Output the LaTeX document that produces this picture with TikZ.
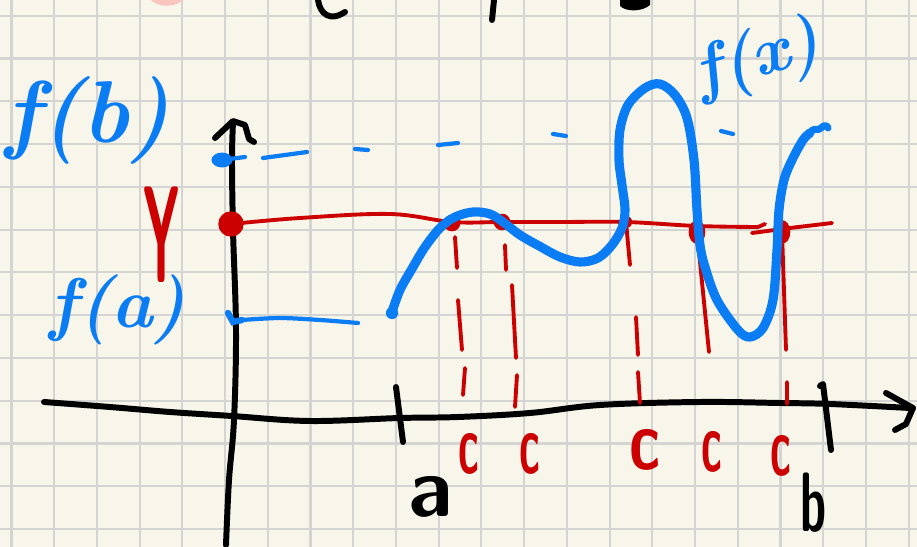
\documentclass[tikz,border=0pt]{standalone}
\usepackage{fontspec}
\usetikzlibrary{shapes.geometric}

\definecolor{paper}{HTML}{F8F6EA}
\definecolor{gridgray}{HTML}{D4D4D2}
\definecolor{penblue}{HTML}{0A7CF4}
\definecolor{penred}{HTML}{CC0000}
\definecolor{blush}{HTML}{F8C6BF}

\tikzset{
  gridline/.style={draw=gridgray, line width=1.2pt},
  axis/.style={line width=3.4pt, line cap=round, line join=round},
  fcurve/.style={draw=penblue, line width=5.2pt, line cap=round, line join=round},
  bluepen/.style={draw=penblue, line width=2.4pt, line cap=round},
  redpen/.style={draw=penred, line width=2.2pt, line cap=round},
  reddot/.style={circle, fill=penred, inner sep=0pt, minimum size=9.5pt},
  hand/.style={inner sep=0pt, font=\fontsize{48}{48}\selectfont\sffamily\bfseries},
  fhand/.style={inner sep=0pt, text=penblue}
}

\begin{document}
\begin{tikzpicture}[x=0.02cm, y=-0.02cm]
\useasboundingbox (0,0) rectangle (917,547);
\clip (0,0) rectangle (917,547);
\fill[paper] (0,0) rectangle (917,547);

% squared paper
\foreach \i in {0,...,21}
  \draw[gridline] ({11.5+42.72*\i},0) -- ++(0,547);
\foreach \j in {0,...,12}
  \draw[gridline] (0,{15.7+42.78*\j}) -- ++(917,0);

% bits cut off at the top edge
\fill[blush] (167,-20) circle (14.7pt);
\draw[axis] (318,0) .. controls (320,14) and (330,22) .. (345,12);
\draw[axis] (494,0) -- (492,20);
\fill (620,0) -- (650,0) -- (650,5) .. controls (642,12) and (626,12) .. (620,6) -- cycle;

% axes
\draw[axis] plot[smooth, tension=0.6] coordinates {(44,402) (110,407) (170,412) (232,416) (310,421) (400,418) (458,417) (530,413) (600,405) (700,402) (780,403) (830,404) (910,408)};
\draw[axis] (886,393) -- (913,408) -- (906,424) -- (895,430);
\draw[axis] plot[smooth, tension=0.6] coordinates {(226,545) (229,480) (234,420) (236,330) (233,230) (232,160) (233,122)};
\draw[axis] (215,138) -- (233,121) -- (245,125) -- (249,139) -- (254,142);
\draw[axis] (396,387) -- (403,442);
\draw[axis] (820,386) -- (823,384) -- (831,450);

\node[hand] (a) at (431,497) {a};
\node[hand] (b) at (814,503) {\scalebox{0.55}[1]{b}};

% value y and the points c
\draw[redpen] plot[smooth, tension=0.6] coordinates {(231,224) (300,218) (390,214) (452,222) (502,222) (560,222) (626,222) (697,226) (758,227)} -- (765,224);
\draw[redpen] (752,233) -- (790,228) -- (832,223);

\node[reddot, minimum size=14.5pt] (y0) at (231,224) {};
\node[reddot] (d1) at (452,223) {};
\node[reddot] (d2) at (502,222) {};
\node[reddot, minimum size=7pt] (d3) at (626,222) {};
\node[reddot, ellipse, minimum width=9.5pt, minimum height=13.5pt] (d4) at (697,232) {};
\node[reddot, ellipse, minimum width=9.5pt, minimum height=13.5pt] (d5) at (782,232) {};

\draw[redpen] (455,237) -- (457,268) (458,300) -- (462,350) (465,368) -- (463,395);
\draw[redpen] (505,245) -- (506,270) (512,285) -- (516,358) (517,375) -- (515,407);
\draw[redpen] (d3) -- (630,265) (636,317) -- (638,355) (638,372) -- (640,403);
\draw[redpen] (d4) -- (709,352);
\draw[redpen] (d5) -- (786,350) (787,382) -- (787,404);

\node[hand, text=penred, font=\fontsize{56}{56}\selectfont\sffamily\bfseries] (Y) at (162,235) {\scalebox{0.5}[1.4]{Y}};
\node[hand, text=penred] (c1) at (469,454) {\scalebox{0.5}[1]{c}};
\node[hand, text=penred] (c2) at (530,454) {\scalebox{0.5}[1]{c}};
\node[hand, text=penred] (c3) at (645,450) {\scalebox{0.75}[1]{c}};
\node[hand, text=penred] (c4) at (712,452) {\scalebox{0.5}[1]{c}};
\node[hand, text=penred] (c5) at (781,456) {\scalebox{0.5}[1]{c}};

% the function
\node[ellipse, fill=penblue, inner sep=0pt, minimum width=12pt, minimum height=8.5pt] (fb) at (222,160) {};
\draw[bluepen] (fb) -- (245,157);
\draw[bluepen] (263,158) -- (307,152) (355,149) -- (368,150) (438,145) -- (458,143)
  (553,134) -- (566,136) (721,131) -- (733,134);

\draw[bluepen, line width=3.6pt] (228,313) -- (233,322) -- (242,320);
\draw[bluepen] plot[smooth] coordinates {(242,320) (280,318) (320,320) (358,323)};

\node[circle, fill=penblue, inner sep=0pt, minimum size=7pt] (fa) at (392,313) {};
\draw[fcurve] plot[smooth, tension=0.55] coordinates {(392,312) (400,290) (413,267) (425,247) (440,228) (455,217) (473,212) (490,214) (503,222) (520,235) (541,247) (560,257) (580,262) (598,258) (612,245) (622,228) (625,210) (622,185) (619,160) (620,130) (628,105) (645,88) (660,84) (675,95) (687,118) (694,160) (697,210) (700,245) (705,267) (717,300) (738,330) (750,337) (763,328) (773,300) (777,250) (779,210) (784,180) (792,160) (803,140) (810,133)};
\draw[fcurve, line width=4pt] (810,133) .. controls (814,126) and (818,132) .. (821,128) .. controls (824,124) and (828,126) .. (828,128);

\node[fhand, font=\fontsize{50}{50}\selectfont\bfseries\itshape] (fbl) at (88,120) {f(b)};
\node[fhand, font=\fontsize{40}{40}\selectfont\bfseries\itshape] (fal) at (118,310) {f(a)};
\node[fhand, font=\fontsize{38}{38}\selectfont\bfseries\itshape, rotate=16] (fxl) at (758,60) {f(x)};

\end{tikzpicture}
\end{document}
